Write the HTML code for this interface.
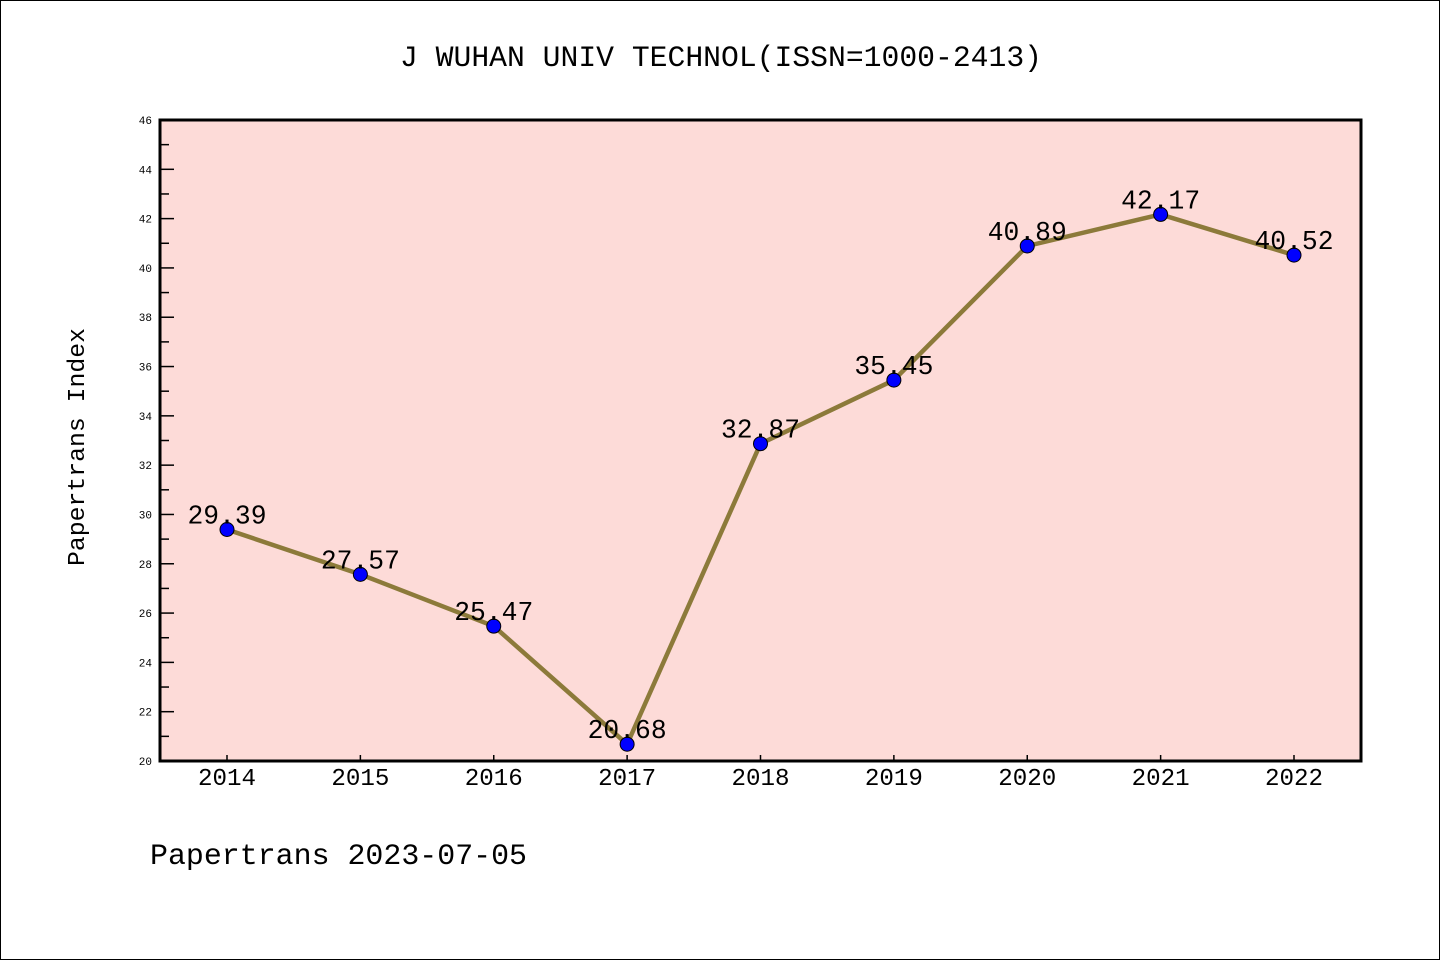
<!DOCTYPE html>
<html><head><meta charset="utf-8"><style>
body{margin:0;background:#fff}
svg{display:block}
text{font-family:"Liberation Mono",monospace}
</style></head><body>
<svg id="chart" width="1440" height="960">
<rect x="0.5" y="0.5" width="1439" height="959" fill="#fff" stroke="#000"/>
<text x="400" y="66" font-size="30" textLength="642" lengthAdjust="spacingAndGlyphs">J WUHAN UNIV TECHNOL(ISSN=1000-2413)</text>
<rect x="160" y="120" width="1201" height="641" fill="#fddbd8"/>
<g id="marks"></g>
<rect x="160" y="120" width="1201" height="641" fill="none" stroke="#000" stroke-width="3"/>
<text transform="translate(84,566) rotate(-90)" font-size="24" textLength="238" lengthAdjust="spacingAndGlyphs">Papertrans Index</text>
<text x="150" y="864" font-size="30" textLength="377" lengthAdjust="spacingAndGlyphs">Papertrans 2023-07-05</text>
</svg>
<script>
const years=["2014","2015","2016","2017","2018","2019","2020","2021","2022"];
const values=[29.39,27.57,25.47,20.68,32.87,35.45,40.89,42.17,40.52];
const yTicks=[20,22,24,26,28,30,32,34,36,38,40,42,44,46];
const NS="http://www.w3.org/2000/svg";
const g=document.getElementById('marks');
const svg=document.getElementById('chart');
const yMin=20,yMax=46;
function ys(v){return 761-(v-yMin)/(yMax-yMin)*641;}
function xs(i){return 227+i*(1294-227)/(years.length-1);}
function el(t,a,p){const e=document.createElementNS(NS,t);for(const k in a)e.setAttribute(k,a[k]);(p||g).appendChild(e);return e;}
yTicks.forEach((v,i)=>{
 const t=el('line',{x1:160,x2:174,y1:ys(v),y2:ys(v),stroke:'#000','stroke-width':1.5},svg);
 
 
 const l=el('text',{x:152,y:ys(v)+4,'font-size':11,'text-anchor':'end','font-family':'Liberation Sans, sans-serif'},svg);
 l.textContent=v;
 
 
 if(i<yTicks.length-1){
  const m=el('line',{x1:160,x2:169,y1:ys(v+1),y2:ys(v+1),stroke:'#000','stroke-width':1.5},svg);
  
  
 }
});
years.forEach((y,i)=>{
 const t=el('line',{x1:xs(i),x2:xs(i),y1:761,y2:755,stroke:'#000','stroke-width':1.5},svg);
 
 
 const l=el('text',{x:xs(i),y:785,'font-size':24,'text-anchor':'middle',textLength:58,lengthAdjust:'spacingAndGlyphs'},svg);
 l.textContent=y;
 
 
});
const line=el('polyline',{points:values.map((v,i)=>xs(i)+','+ys(v)).join(' '),fill:'none',stroke:'#8c7a3a','stroke-width':4.5});


values.forEach((v,i)=>{
 const c=el('circle',{cx:xs(i),cy:ys(v),r:7,fill:'#0000ff',stroke:'#000','stroke-width':1});
 
 
 const l=el('text',{x:xs(i),y:ys(v)-6,'font-size':27,'text-anchor':'middle',textLength:79,lengthAdjust:'spacingAndGlyphs'});
 l.textContent=v.toFixed(2);
 
 
});
</script>
</body></html>
